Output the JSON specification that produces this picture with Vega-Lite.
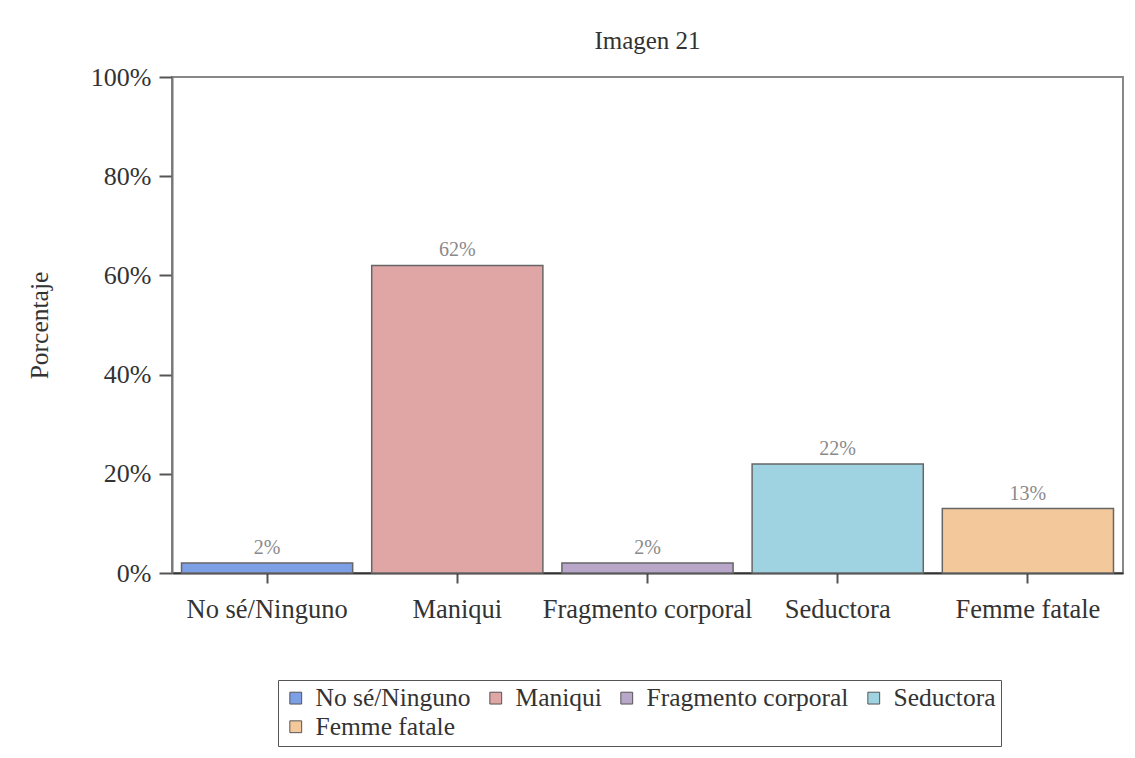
{
  "$schema": "https://vega.github.io/schema/vega-lite/v6.json",
  "autosize": "none",
  "width": 951,
  "height": 496,
  "padding": {"left": 172, "top": 77, "right": 12, "bottom": 185},
  "background": "white",
  "title": {"text": "Imagen 21", "font": "Liberation Serif", "fontSize": 25, "fontWeight": "normal", "color": "#333333", "offset": 10, "anchor": "middle"},
  "data": {"values": [
    {"categoria": "No sé/Ninguno", "porcentaje": 0.02},
    {"categoria": "Maniqui", "porcentaje": 0.62},
    {"categoria": "Fragmento corporal", "porcentaje": 0.02},
    {"categoria": "Seductora", "porcentaje": 0.22},
    {"categoria": "Femme fatale", "porcentaje": 0.13}
  ]},
  "encoding": {
    "x": {"field": "categoria", "type": "nominal", "sort": null,
      "scale": {"paddingInner": 0.1, "paddingOuter": 0.05},
      "axis": {"title": null, "labelAngle": 0, "labelFontSize": 26.5, "labelPadding": 13, "labelLimit": 400, "tickSize": 10, "domainColor": "#333333", "domainWidth": 2}},
    "y": {"field": "porcentaje", "type": "quantitative",
      "scale": {"domain": [0, 1], "nice": false},
      "axis": {"format": ".0%", "values": [0, 0.2, 0.4, 0.6, 0.8, 1], "grid": false, "title": "Porcentaje", "titleFontSize": 25.5, "labelFontSize": 26, "tickSize": 13, "labelPadding": 8, "titlePadding": 38}}
  },
  "layer": [
    {"mark": {"type": "bar", "stroke": "#666666", "strokeWidth": 1.5},
     "encoding": {"color": {"field": "categoria", "type": "nominal", "sort": null,
       "scale": {"domain": ["No sé/Ninguno", "Maniqui", "Fragmento corporal", "Seductora", "Femme fatale"],
                 "range": ["#7d9fe6", "#e0a6a6", "#b9a7ca", "#9fd3e2", "#f3c99b"]},
       "legend": {"title": null, "orient": "none", "legendX": 106, "legendY": 603, "direction": "horizontal", "columns": 4,
         "strokeColor": "#555555", "padding": 5, "labelFont": "Liberation Serif", "labelFontSize": 25.5, "labelColor": "#333333",
         "symbolType": "square", "symbolSize": 140, "symbolStrokeColor": "#555555", "symbolStrokeWidth": 1, "columnPadding": 12, "rowPadding": 2, "labelLimit": 400, "labelOffset": 7}}}},
    {"mark": {"type": "text", "dy": -5, "baseline": "bottom", "font": "Liberation Serif", "fontSize": 20, "color": "#8a8a8a"},
     "encoding": {"text": {"field": "porcentaje", "type": "quantitative", "format": ".0%"}}}
  ],
  "config": {
    "view": {"stroke": "#888888", "strokeWidth": 2},
    "font": "Liberation Serif",
    "axis": {"labelFont": "Liberation Serif", "titleFont": "Liberation Serif", "labelColor": "#333333", "titleColor": "#333333", "titleFontWeight": "normal", "domainColor": "#777777", "domainWidth": 2, "tickColor": "#555555", "tickWidth": 2}
  }
}
